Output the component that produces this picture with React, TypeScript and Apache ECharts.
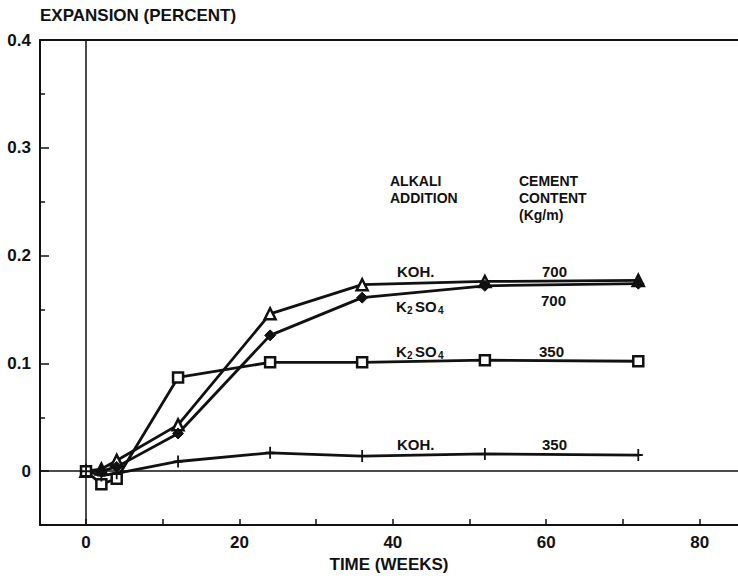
import React, { useEffect, useRef } from "react";
import * as echarts from "echarts";

// ---- data ----
const weeks = [0, 2, 4, 12, 24, 36, 52, 72];
const koh700 = [0, 0.002, 0.01, 0.043, 0.146, 0.173, 0.176, 0.177];
const k2so4700 = [0, 0.0, 0.004, 0.035, 0.126, 0.161, 0.172, 0.174];
const k2so4350 = [0, -0.012, -0.007, 0.087, 0.101, 0.101, 0.103, 0.102];
const koh350 = [0, -0.004, -0.002, 0.009, 0.017, 0.014, 0.016, 0.015];

const xTickValues = [0, 10, 20, 30, 40, 50, 60, 70, 80];
const xLabelValues = [0, 20, 40, 60, 80];
const yMajorValues = [0, 0.1, 0.2, 0.3, 0.4];
const yMinorValues = [0.05, 0.15, 0.25, 0.35];

const titleText = "EXPANSION (PERCENT)";
const xAxisTitle = "TIME (WEEKS)";
const headerAlkali = ["ALKALI", "ADDITION"];
const headerCement = ["CEMENT", "CONTENT", "(Kg/m)"];
const cementValues = ["700", "700", "350", "350"];

const FONT = "'Liberation Sans', Arial, Helvetica, sans-serif";
const INK = "#111";

const PLUS = "path://M-1,-6H1V-1H5V1H1V6H-1V1H-5V-1H-1Z";

function txt(x: number, y: number, text: string, size = 15) {
  return {
    type: "text",
    x,
    y,
    silent: true,
    style: {
      text,
      fill: INK,
      font: `bold ${size}px ${FONT}`,
      textAlign: "left",
      textVerticalAlign: "middle",
    },
  };
}

function k2so4(x: number, y: number) {
  return [
    txt(x, y, "K"),
    txt(x + 11, y + 4, "2", 10),
    txt(x + 19, y, "SO"),
    txt(x + 42, y + 4, "4", 10),
  ];
}

export default function App() {
  const ref = useRef<HTMLDivElement>(null);

  useEffect(() => {
    if (!ref.current) return;
    const chart = echarts.init(ref.current, undefined, { renderer: "svg" });

    const lineBase = {
      type: "line",
      lineStyle: { color: INK, width: 2.8 },
      itemStyle: { color: INK, borderColor: INK },
      z: 3,
    };

    const option: any = {
      animation: false,
      backgroundColor: "#fff",
      grid: { left: 40, top: 40, right: 0, bottom: 52, containLabel: false },
      xAxis: [
        {
          type: "value",
          min: -6,
          max: 85,
          position: "bottom",
          name: xAxisTitle,
          nameLocation: "middle",
          nameGap: 30,
          nameTextStyle: { color: INK, fontFamily: FONT, fontWeight: "bold", fontSize: 17 },
          axisLine: { show: true, onZero: false, lineStyle: { color: INK, width: 2 } },
          axisTick: { show: true, inside: true, length: 6, customValues: xTickValues, lineStyle: { color: INK, width: 1.5 } },
          axisLabel: {
            show: true,
            customValues: xLabelValues,
            margin: 9,
            color: INK,
            fontFamily: FONT,
            fontWeight: "bold",
            fontSize: 17,
          },
          splitLine: { show: false },
        },
        {
          type: "value",
          min: -6,
          max: 85,
          position: "top",
          axisLine: { show: true, onZero: false, lineStyle: { color: INK, width: 2 } },
          axisTick: { show: false },
          axisLabel: { show: false },
          splitLine: { show: false },
        },
      ],
      yAxis: [
        {
          type: "value",
          min: -0.05,
          max: 0.4,
          position: "left",
          axisLine: { show: true, onZero: false, lineStyle: { color: INK, width: 2 } },
          axisTick: { show: true, inside: true, length: 9, customValues: yMajorValues, lineStyle: { color: INK, width: 1.5 } },
          axisLabel: {
            show: true,
            customValues: yMajorValues,
            margin: 9,
            color: INK,
            fontFamily: FONT,
            fontWeight: "bold",
            fontSize: 17,
            formatter: (v: number) => (Math.abs(v) < 1e-9 ? "0" : v.toFixed(1)),
          },
          splitLine: { show: false },
        },
        {
          type: "value",
          min: -0.05,
          max: 0.4,
          position: "left",
          axisLine: { show: false, onZero: false },
          axisTick: { show: true, inside: true, length: 5, customValues: yMinorValues, lineStyle: { color: INK, width: 1.5 } },
          axisLabel: { show: false },
          splitLine: { show: false },
        },
      ],
      series: [
        {
          ...lineBase,
          name: "KOH 700",
          data: weeks.map((w, i) => [w, koh700[i]]),
          symbol: "triangle",
          symbolSize: 11,
          itemStyle: { color: "#fff", borderColor: INK, borderWidth: 2.5 },
          markLine: {
            silent: true,
            symbol: "none",
            label: { show: false },
            lineStyle: { color: INK, width: 1.5, type: "solid" },
            data: [{ xAxis: 0 }, { yAxis: 0 }],
            z: 1,
          },
        },
        {
          ...lineBase,
          name: "K2SO4 700",
          data: weeks.map((w, i) => [w, k2so4700[i]]),
          symbol: "diamond",
          symbolSize: 11,
          itemStyle: { color: INK, borderColor: INK, borderWidth: 1 },
        },
        {
          ...lineBase,
          name: "K2SO4 350",
          data: weeks.map((w, i) => [w, k2so4350[i]]),
          symbol: "rect",
          symbolSize: 10,
          itemStyle: { color: "#fff", borderColor: INK, borderWidth: 2.5 },
        },
        {
          ...lineBase,
          name: "KOH 350",
          data: weeks.map((w, i) => [w, koh350[i]]),
          symbol: PLUS,
          symbolSize: [9, 12],
          itemStyle: { color: INK, borderColor: INK, borderWidth: 0 },
        },
      ],
      graphic: [
        txt(40, 15, titleText, 17),
        txt(390, 181, headerAlkali[0], 14),
        txt(390, 198, headerAlkali[1], 14),
        txt(519, 181, headerCement[0], 14),
        txt(519, 198, headerCement[1], 14),
        txt(519, 215, headerCement[2], 14),
        txt(397, 271, "KOH."),
        txt(542, 271, cementValues[0]),
        ...k2so4(396, 306),
        txt(541, 300, cementValues[1]),
        ...k2so4(396, 351),
        txt(539, 351, cementValues[2]),
        txt(397, 444, "KOH."),
        txt(542, 444, cementValues[3]),
      ],
    };

    chart.setOption(option);
    return () => chart.dispose();
  }, []);

  return (
    <div style={{ position: "absolute", left: 0, top: 0 }}>
      <div ref={ref} style={{ width: 738, height: 578 }} />
    </div>
  );
}
